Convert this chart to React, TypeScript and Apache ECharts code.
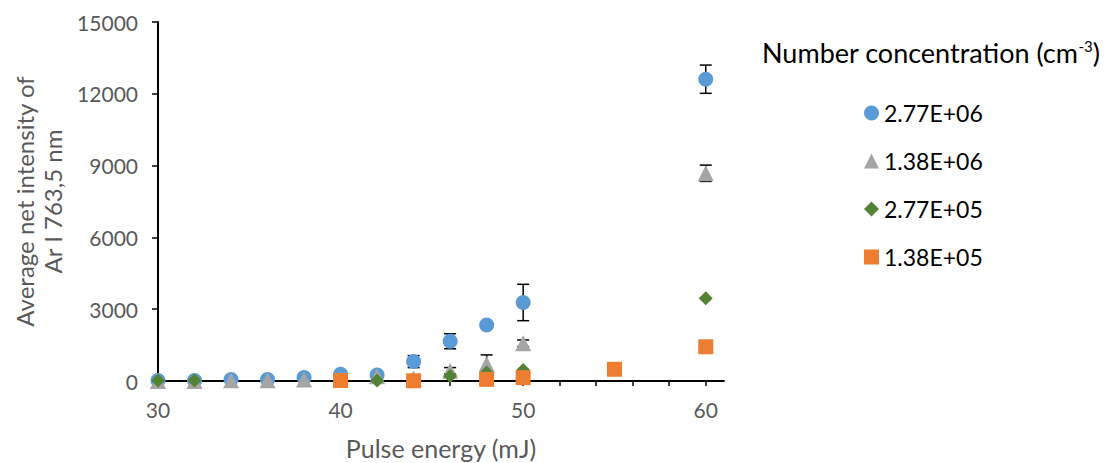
import React, { useEffect, useRef } from "react";
import * as echarts from "echarts";

const seriesNames = ["2.77E+06", "1.38E+06", "2.77E+05", "1.38E+05"];

const energyBlue = [30, 32, 34, 36, 38, 40, 42, 44, 46, 48, 50, 60];
const intensityBlue = [20, 20, 60, 60, 150, 280, 250, 810, 1660, 2340, 3280, 12610];
const errorBlue = [0, 0, 0, 0, 0, 0, 0, 250, 313, 0, 760, 590];

const energyGray = [30, 32, 34, 36, 38, 40, 42, 44, 46, 48, 50, 60];
const intensityGray = [0, 0, 30, 30, 60, 50, 200, 100, 430, 710, 1575, 8680];
const errorGray = [0, 0, 0, 0, 0, 0, 0, 0, 130, 380, 140, 340];

const energyGreen = [30, 32, 42, 46, 48, 50, 60];
const intensityGreen = [20, 20, 20, 210, 350, 460, 3455];
const errorGreen = [0, 0, 0, 0, 0, 0, 0];

const energyOrange = [40, 44, 48, 50, 55, 60];
const intensityOrange = [20, 10, 70, 140, 490, 1430];
const errorOrange = [0, 0, 0, 0, 0, 80];

const xTickValues = [30, 32, 34, 36, 38, 40, 42, 44, 46, 48, 50, 52, 54, 56, 58, 60];
const xLabelValues = [30, 40, 50, 60];

const colors = ["#5B9BD5", "#A5A5A5", "#548235", "#ED7D31"];
const symbols = ["circle", "triangle", "diamond", "rect"];
const FONT = "Lato";

function pairs(xs: number[], ys: number[]) {
  return xs.map((x, i) => [x, ys[i]]);
}
function triples(xs: number[], ys: number[], es: number[]) {
  return xs.map((x, i) => [x, ys[i], es[i]]).filter((d) => d[2] > 0);
}

export default function App() {
  const ref = useRef<HTMLDivElement>(null);
  useEffect(() => {
    document.body.style.margin = "0";
    const chart = echarts.init(ref.current!, null, { renderer: "svg" });
    const allErr = [
      ...triples(energyBlue, intensityBlue, errorBlue),
      ...triples(energyGray, intensityGray, errorGray),
      ...triples(energyGreen, intensityGreen, errorGreen),
      ...triples(energyOrange, intensityOrange, errorOrange),
    ];
    const points = [
      pairs(energyBlue, intensityBlue),
      pairs(energyGray, intensityGray),
      pairs(energyGreen, intensityGreen),
      pairs(energyOrange, intensityOrange),
    ];
    const sizes = [15, 16, 14, 15];
    chart.setOption({
      animation: false,
      title: {
        text: "Number concentration (cm{sup|-3})",
        left: 757,
        top: 33,
        textStyle: {
          fontFamily: FONT,
          fontSize: 27,
          fontWeight: "normal",
          color: "#000",
          rich: {
            sup: { fontFamily: FONT, fontSize: 15, color: "#000", verticalAlign: "top", padding: [0, 0, 14, 0] },
          },
        },
      },
      legend: {
        orient: "vertical",
        left: 859,
        top: 95,
        itemWidth: 15,
        itemHeight: 15,
        itemGap: 22,
        textStyle: { fontFamily: FONT, fontSize: 23, color: "#000", lineHeight: 26 },
        data: seriesNames.map((n, i) => ({ name: n, icon: symbols[i] })),
      },
      grid: {
        left: 158,
        right: 1113 - 724,
        top: 22,
        bottom: 463 - 381,
        containLabel: false,
        outerBoundsMode: "none",
      },
      xAxis: {
        type: "value",
        min: 30,
        max: 61,
        interval: 2,
        name: "Pulse energy (mJ)",
        nameLocation: "middle",
        nameGap: 54,
        nameTextStyle: { fontFamily: FONT, fontSize: 25, color: "#595959" },
        axisLine: { show: true, onZero: false, lineStyle: { color: "#000", width: 2 } },
        axisTick: { show: true, length: 5, customValues: xTickValues, lineStyle: { color: "#000", width: 1.5 } },
        axisLabel: { customValues: xLabelValues, margin: 18, fontFamily: FONT, fontSize: 21, color: "#595959" },
        splitLine: { show: false },
      },
      yAxis: {
        type: "value",
        min: 0,
        max: 15000,
        interval: 3000,
        name: "Average net intensity of\nAr I 763,5 nm",
        nameLocation: "middle",
        nameGap: 90,
        nameTextStyle: { fontFamily: FONT, fontSize: 24, color: "#595959", lineHeight: 28 },
        axisLine: { show: true, lineStyle: { color: "#000", width: 2 } },
        axisTick: { show: true, length: 6, lineStyle: { color: "#000", width: 1.5 } },
        axisLabel: {
          margin: 20,
          fontFamily: FONT,
          fontSize: 21,
          color: "#595959",
          formatter: (v: number) => String(v),
        },
        splitLine: { show: false },
      },
      series: [
        {
          type: "custom",
          name: "errorbars",
          z: 1,
          silent: true,
          encode: { x: 0, y: 1 },
          data: allErr,
          renderItem: (params: any, api: any) => {
            const x = api.value(0);
            const y = api.value(1);
            const e = api.value(2);
            const top = api.coord([x, y + e]);
            const bot = api.coord([x, Math.max(0, y - e)]);
            const half = 6;
            const style = { stroke: "#000", lineWidth: 1.5 };
            return {
              type: "group",
              children: [
                { type: "line", shape: { x1: top[0], y1: top[1], x2: bot[0], y2: bot[1] }, style },
                { type: "line", shape: { x1: top[0] - half, y1: top[1], x2: top[0] + half, y2: top[1] }, style },
                { type: "line", shape: { x1: bot[0] - half, y1: bot[1], x2: bot[0] + half, y2: bot[1] }, style },
              ],
            };
          },
        },
        ...seriesNames.map((n, i) => ({
          type: "scatter",
          name: n,
          symbol: symbols[i],
          symbolSize: sizes[i],
          z: 2 + i,
          itemStyle: { color: colors[i], opacity: 1 },
          data: points[i],
        })),
      ],
    });
    return () => chart.dispose();
  }, []);
  return <div ref={ref} style={{ width: 1113, height: 463 }} />;
}
